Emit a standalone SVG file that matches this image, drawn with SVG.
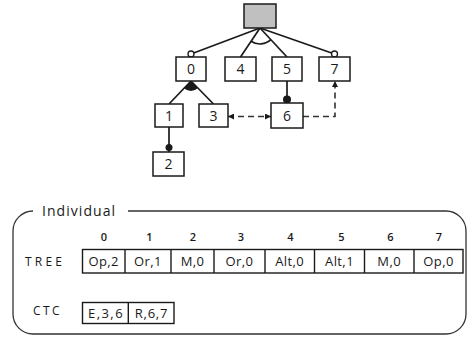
<svg xmlns="http://www.w3.org/2000/svg" width="468" height="338" viewBox="0 0 468 338">
<style>
.box{fill:#fff;stroke:#1a1a1a;stroke-width:1.5}
.ln{stroke:#1a1a1a;stroke-width:1.7;fill:none}
.dv{stroke:#1a1a1a;stroke-width:1.4;fill:none}
.dash{stroke:#333;stroke-width:1.6;fill:none;stroke-dasharray:6,4}
.t{font-family:"Open Sans","Noto Sans",sans-serif;fill:#1a1a1a;text-anchor:middle}
.n{font-size:14px}
.c{font-size:13px;letter-spacing:0.4px}
.i{font-size:11px;font-weight:600}
.lbl{font-family:"Open Sans","Noto Sans",sans-serif;fill:#1a1a1a;font-size:12px}
.frame{fill:none;stroke:#333;stroke-width:1.3}
.tbl{fill:#fff;stroke:#1a1a1a;stroke-width:1.4}
</style>
<defs>
<marker id="arr" viewBox="0 0 10 10" refX="10" refY="5" markerWidth="7" markerHeight="6" orient="auto-start-reverse" markerUnits="userSpaceOnUse">
<path d="M0,0 L10,5 L0,10 z" fill="#1a1a1a"/>
</marker>
</defs>

<g id="connectors">
<line class="ln" x1="260" y1="28" x2="191" y2="54"/>
<line class="ln" x1="260" y1="28" x2="240.5" y2="57"/>
<line class="ln" x1="260" y1="28" x2="287" y2="57"/>
<line class="ln" x1="260" y1="28" x2="334.5" y2="54"/>
<path class="ln" d="M251.1,41.3 A16,16 0 0 0 270.9,39.7" stroke-width="1.4"/>
<circle cx="191" cy="54" r="3" fill="#fff" stroke="#1a1a1a" stroke-width="1.3"/>
<circle cx="334.5" cy="54" r="3" fill="#fff" stroke="#1a1a1a" stroke-width="1.3"/>
<line class="ln" x1="191" y1="81" x2="169" y2="104"/>
<line class="ln" x1="191" y1="81" x2="213.5" y2="104"/>
<path d="M191,81 L184.1,88.2 A10,10 0 0 0 198,88.1 Z" fill="#1a1a1a"/>
<line class="ln" x1="169" y1="127" x2="169" y2="152"/>
<circle cx="169" cy="147.5" r="3.5" fill="#1a1a1a"/>
<line class="ln" x1="287" y1="81" x2="287" y2="103"/>
<circle cx="287" cy="99.5" r="4" fill="#1a1a1a"/>
<line class="dash" x1="228" y1="116.5" x2="271" y2="116.5" marker-start="url(#arr)" marker-end="url(#arr)"/>
<path class="dash" d="M303,116.5 H335 V81" marker-end="url(#arr)"/>
</g>

<g id="root"><rect x="244" y="4" width="32" height="24" fill="#c0c0c0" stroke="#1a1a1a" stroke-width="1.5"/></g>
<g id="node0"><rect class="box" x="176" y="57" width="30" height="24"/><text class="t n" x="191" y="74">0</text></g>
<g id="node4"><rect class="box" x="225" y="57" width="31" height="24"/><text class="t n" x="240.5" y="74">4</text></g>
<g id="node5"><rect class="box" x="272" y="57" width="30" height="24"/><text class="t n" x="287" y="74">5</text></g>
<g id="node7"><rect class="box" x="319" y="57" width="31" height="24"/><text class="t n" x="334.5" y="74">7</text></g>
<g id="node1"><rect class="box" x="155" y="104" width="28" height="23"/><text class="t n" x="169" y="120.5">1</text></g>
<g id="node3"><rect class="box" x="199" y="104" width="29" height="23"/><text class="t n" x="213.5" y="120.5">3</text></g>
<g id="node6"><rect class="box" x="271" y="103" width="32" height="25"/><text class="t n" x="287" y="120.5">6</text></g>
<g id="node2"><rect class="box" x="153" y="152" width="31" height="24"/><text class="t n" x="168.5" y="169">2</text></g>

<g id="individual">
<path class="frame" d="M128,211 H446 A20,20 0 0 1 466,231 V314 A20,20 0 0 1 446,334 H33 A20,20 0 0 1 13,314 V231 A20,20 0 0 1 33,211"/>
<text class="lbl" x="42" y="215.5" style="font-size:14px" textLength="73" lengthAdjust="spacing">Individual</text>
<text class="lbl" x="25" y="266" textLength="37" lengthAdjust="spacing">TREE</text>
<text class="lbl" x="33" y="314.5" textLength="26.5" lengthAdjust="spacing">CTC</text>

<g id="indices">
<text class="t i" x="104" y="241">0</text>
<text class="t i" x="149.5" y="241">1</text>
<text class="t i" x="193" y="241">2</text>
<text class="t i" x="241" y="241">3</text>
<text class="t i" x="290.5" y="241">4</text>
<text class="t i" x="341.5" y="241">5</text>
<text class="t i" x="390.5" y="241">6</text>
<text class="t i" x="439" y="241">7</text>
</g>

<g id="tree-table">
<rect class="tbl" x="82.5" y="249.5" width="380.5" height="23.5"/>
<line class="dv" x1="125" y1="249.5" x2="125" y2="273"/>
<line class="dv" x1="171" y1="249.5" x2="171" y2="273"/>
<line class="dv" x1="214" y1="249.5" x2="214" y2="273"/>
<line class="dv" x1="265" y1="249.5" x2="265" y2="273"/>
<line class="dv" x1="314.5" y1="249.5" x2="314.5" y2="273"/>
<line class="dv" x1="364.5" y1="249.5" x2="364.5" y2="273"/>
<line class="dv" x1="414" y1="249.5" x2="414" y2="273"/>
<text class="t c" x="103.7" y="266">Op,2</text>
<text class="t c" x="148" y="266">Or,1</text>
<text class="t c" x="192.5" y="266">M,0</text>
<text class="t c" x="239.5" y="266">Or,0</text>
<text class="t c" x="289.7" y="266">Alt,0</text>
<text class="t c" x="339.5" y="266">Alt,1</text>
<text class="t c" x="389.2" y="266">M,0</text>
<text class="t c" x="438.5" y="266">Op,0</text>
</g>

<g id="ctc-table">
<rect class="tbl" x="82.5" y="302.5" width="91.5" height="21"/>
<line class="dv" x1="128.3" y1="302.5" x2="128.3" y2="323.5"/>
<text class="t c" x="105.5" y="317.5" textLength="35" lengthAdjust="spacing">E,3,6</text>
<text class="t c" x="151.3" y="317.5" textLength="33" lengthAdjust="spacing">R,6,7</text>
</g>
</g>
</svg>
